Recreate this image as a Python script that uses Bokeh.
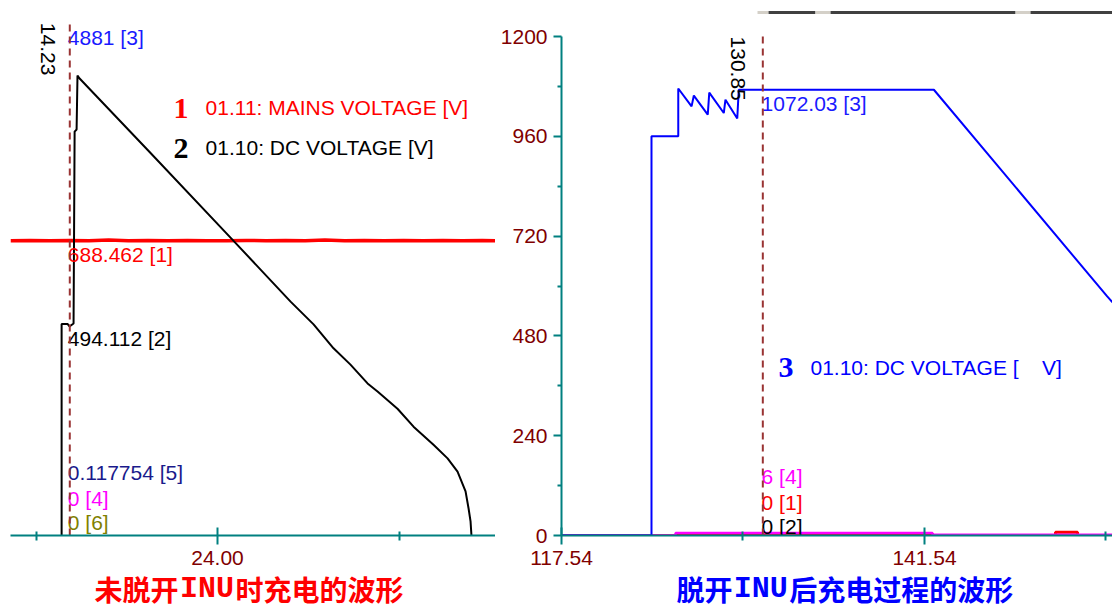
import math
from bokeh.plotting import figure
from bokeh.layouts import row, column
from bokeh.models import FixedTicker, PrintfTickFormatter, Range1d
from bokeh.core.properties import value
from bokeh.embed import file_html
from bokeh.resources import INLINE

# ---------------- left panel data: charging without disconnecting INU ----------------
left_cursor = 14.23
left_major_ticks = [24.0]
left_minor_ticks = [12.0, 36.0]

dc_left_t = [13.69, 13.69, 14.08, 14.21, 14.48, 14.55, 14.68, 14.74, 14.88, 19.57, 25.06,
             28.83, 30.35, 31.67, 32.79, 33.92, 34.58, 35.90, 36.96, 38.28, 39.21, 39.87,
             40.40, 40.60, 40.73, 40.79]
dc_left_v = [0, 494, 494, 488, 495, 943, 948, 1074, 1067, 893, 688, 546, 493, 437, 399, 355,
             336, 296, 254, 212, 180, 149, 103, 63, 33, 0]

mains_left_t = [10.31, 11.6, 12.9, 14.2, 15.5, 16.8, 18.1, 19.4, 20.7, 22.0, 23.3, 24.6, 25.9,
                27.2, 28.5, 29.8, 31.1, 32.4, 33.7, 35.0, 36.3, 37.6, 38.9, 40.2, 41.5, 42.38]
mains_left_v = [688, 689, 688, 689, 688, 690, 688, 689, 688, 689, 688, 688, 689, 688, 689, 688,
                690, 688, 689, 688, 689, 688, 689, 688, 689, 688]

left_readouts = ["4881 [3]", "688.462 [1]", "494.112 [2]", "0.117754 [5]", "0 [4]", "0 [6]"]
left_readout_colors = ["#1a1aff", "#ff0000", "#000000", "#1a1a8c", "#ff00ff", "#808000"]

# ---------------- right panel data: charging after disconnecting INU ----------------
right_cursor = 130.85
right_major_ticks = [117.54, 141.54]
right_minor_ticks = [129.54, 153.54]
right_y_ticks = [0, 240, 480, 720, 960, 1200]
right_y_minor = [120, 360, 600, 840, 1080]

dc_right_t = [117.54, 123.49, 123.49, 125.26, 125.26, 126.14, 126.29, 127.21, 127.31, 128.27,
              128.38, 129.16, 129.26, 142.16, 153.62, 153.97]
dc_right_v = [0, 0, 960, 960, 1075, 1032, 1058, 1012, 1065, 1016, 1048, 1003, 1072, 1072, 575, 561]

mains_right_t = [117.54, 130.23, 130.23, 132.35, 132.35, 140.75, 140.75, 142.07, 142.07, 150.2,
                 150.2, 151.66, 151.66, 153.97]
mains_right_v = [0, 0, 4, 4, 0, 0, 4, 4, 0, 0, 8, 8, 0, 0]

ch4_right_t = [117.54, 125.08, 125.08, 142.07, 142.07, 153.97]
ch4_right_v = [0, 0, 6, 6, 2, 2]

ch2_right_t = [117.54, 153.97]
ch2_right_v = [0, 0]

right_readouts = ["1072.03 [3]", "6 [4]", "0 [1]", "0 [2]"]
right_readout_colors = ["#1a1aff", "#ff00ff", "#ff0000", "#000000"]

# ---------------- layout / style constants ----------------
TEAL = "#008080"
TICKLABEL = "#800000"
CURSOR = "#993333"
FONT = "Liberation Sans"
FS = "21px"
NB = "\u00a0"

L_XR = (10.31, 42.38)
R_XR = (117.54, 153.97)
L_YR = (0, 1237.4)
R_YR = (0, 1274.6)
left_readout_y = [1163, 655, 460, 147, 86, 30]
right_readout_y = [1040, 142, 80, 22]


def style_x(ax, ticks, minor):
    ax.ticker = FixedTicker(ticks=ticks, minor_ticks=minor)
    ax.formatter = PrintfTickFormatter(format="%.2f")
    ax.axis_line_color = TEAL
    ax.axis_line_width = 2
    ax.major_tick_line_color = TEAL
    ax.major_tick_line_width = 2
    ax.minor_tick_line_color = TEAL
    ax.minor_tick_line_width = 2
    ax.major_tick_in = 8
    ax.major_tick_out = 9
    ax.minor_tick_in = 4
    ax.minor_tick_out = 5
    ax.major_label_text_color = TICKLABEL
    ax.major_label_text_font = FONT
    ax.major_label_text_font_size = FS
    ax.major_label_standoff = 6


def base(p):
    p.grid.visible = False
    p.outline_line_color = None
    p.background_fill_color = "white"
    p.border_fill_color = "white"


# ================= LEFT =================
p1 = figure(frame_width=485, frame_height=530, min_border_left=10, min_border_right=0,
            min_border_top=5, min_border_bottom=40, x_range=Range1d(*L_XR),
            y_range=Range1d(*L_YR), y_axis_location=None, toolbar_location=None,
            output_backend="svg", title=None)
base(p1)
style_x(p1.xaxis[0], left_major_ticks, left_minor_ticks)

p1.line(mains_left_t, mains_left_v, line_color="#ff0000", line_width=3.5)
p1.line(dc_left_t, dc_left_v, line_color="#000000", line_width=2)

p1.text(x=[left_cursor - 0.13] * len(left_readouts), y=left_readout_y, text=left_readouts,
        text_color=left_readout_colors, text_font=value(FONT), text_font_size=FS,
        text_align="left", text_baseline="middle")
p1.text(x=[12.79], y=[1197], text=["%.2f" % left_cursor], angle=-math.pi / 2,
        text_color="#000000", text_font=value(FONT), text_font_size=FS,
        text_align="left", text_baseline="middle")
p1.segment(x0=[left_cursor], y0=[0], x1=[left_cursor], y1=[1198], line_color=CURSOR,
           line_width=2, line_dash="7 5")

# legend
p1.text(x=[21.09, 21.09], y=[997, 903], text=["1", "2"], text_color=["#ff0000", "#000000"],
        text_font=value("Liberation Serif"), text_font_style="bold", text_font_size="30px",
        text_align="left", text_baseline="middle")
p1.text(x=[23.21, 23.21], y=[1000, 905], text=["01.11: MAINS VOLTAGE [V]", "01.10: DC VOLTAGE [V]"],
        text_color=["#ff0000", "#000000"], text_font=value(FONT), text_font_size=FS,
        text_align="left", text_baseline="middle")

# ================= RIGHT =================
p2 = figure(frame_width=551, frame_height=530, min_border_left=66, min_border_right=0,
            min_border_top=5, min_border_bottom=40, x_range=Range1d(*R_XR),
            y_range=Range1d(*R_YR), toolbar_location=None, output_backend="svg", title=None)
base(p2)
style_x(p2.xaxis[0], right_major_ticks, right_minor_ticks)
ya = p2.yaxis[0]
ya.ticker = FixedTicker(ticks=right_y_ticks, minor_ticks=right_y_minor)
ya.bounds = (0, 1200)
ya.axis_line_color = TEAL
ya.axis_line_width = 2
ya.major_tick_line_color = TEAL
ya.major_tick_line_width = 2
ya.minor_tick_line_color = TEAL
ya.minor_tick_line_width = 2
ya.major_tick_in = 0
ya.major_tick_out = 8
ya.minor_tick_in = 0
ya.minor_tick_out = 4
ya.major_label_text_color = TICKLABEL
ya.major_label_text_font = FONT
ya.major_label_text_font_size = FS
ya.major_label_standoff = 6

# screenshot window edge at top
p2.segment(x0=[130.50, 131.23, 134.33, 135.33, 147.56, 148.55],
           x1=[131.23, 134.33, 135.33, 147.56, 148.55, 153.97],
           y0=[1257.7] * 6, y1=[1257.7] * 6,
           line_color=["#d4d0c8", "#404040", "#d4d0c8", "#404040", "#d4d0c8", "#404040"],
           line_width=3)

p2.line(ch2_right_t, ch2_right_v, line_color="#000000", line_width=2)
p2.line(mains_right_t, mains_right_v, line_color="#ff0000", line_width=3)
p2.line(ch4_right_t, ch4_right_v, line_color="#ff00ff", line_width=2.5)
p2.line(dc_right_t, dc_right_v, line_color="#0000ff", line_width=2)

p2.text(x=[right_cursor - 0.08] * len(right_readouts), y=right_readout_y, text=right_readouts,
        text_color=right_readout_colors, text_font=value(FONT), text_font_size=FS,
        text_align="left", text_baseline="middle")
p2.text(x=[129.24], y=[1200], text=["%.2f" % right_cursor], angle=-math.pi / 2,
        text_color="#000000", text_font=value(FONT), text_font_size=FS,
        text_align="left", text_baseline="middle")
p2.segment(x0=[right_cursor], y0=[0], x1=[right_cursor], y1=[1200], line_color=CURSOR,
           line_width=2, line_dash="7 5")

p2.text(x=[131.89], y=[403], text=["3"], text_color="#0000ff",
        text_font=value("Liberation Serif"), text_font_style="bold", text_font_size="30px",
        text_align="left", text_baseline="middle")
p2.text(x=[134.0], y=[403], text=["01.10: DC VOLTAGE [" + NB * 4 + "V]"], text_color="#0000ff",
        text_font=value(FONT), text_font_size=FS, text_align="left", text_baseline="middle")


# ================= CAPTIONS (overlap the axis area, transparent) =================
CAP_H = 60
CAP_OVERLAP = 25
CAP_Y = 22


def caption(xr, border_left, frame_w, pieces, color):
    c = figure(frame_width=frame_w, frame_height=CAP_H, min_border_left=border_left,
               min_border_right=0, min_border_top=0, min_border_bottom=0,
               x_range=Range1d(*xr), y_range=Range1d(0, CAP_H), x_axis_location=None,
               y_axis_location=None, toolbar_location=None, output_backend="svg", title=None)
    c.grid.visible = False
    c.outline_line_color = None
    c.background_fill_alpha = 0
    c.border_fill_alpha = 0
    for x, txt, al, fnt, fs in pieces:
        c.text(x=[x], y=[CAP_Y], text=[txt], text_align=al, text_baseline="middle",
               text_font=value(fnt), text_font_size=fs, text_font_style="bold",
               text_color=color)
    return c


c1 = caption(L_XR, 10, 485, [(21.42, "未脱开", "right", "Noto Sans CJK SC", "28px"),
                             (23.30, "INU", "center", "Liberation Mono", "30px"),
                             (25.18, "时充电的波形", "left", "Noto Sans CJK SC", "28px")], "#ff0000")
c2 = caption(R_XR, 66, 551, [(128.85, "脱开", "right", "Noto Sans CJK SC", "28px"),
                             (130.72, "INU", "center", "Liberation Mono", "30px"),
                             (132.60, "后充电过程的波形", "left", "Noto Sans CJK SC", "28px")], "#0000ff")

caps = row(c1, c2)
caps.margin = (-CAP_OVERLAP, 0, 0, 0)
layout = column(row(p1, p2), caps)
open("out.html", "w").write(file_html(layout, INLINE))
